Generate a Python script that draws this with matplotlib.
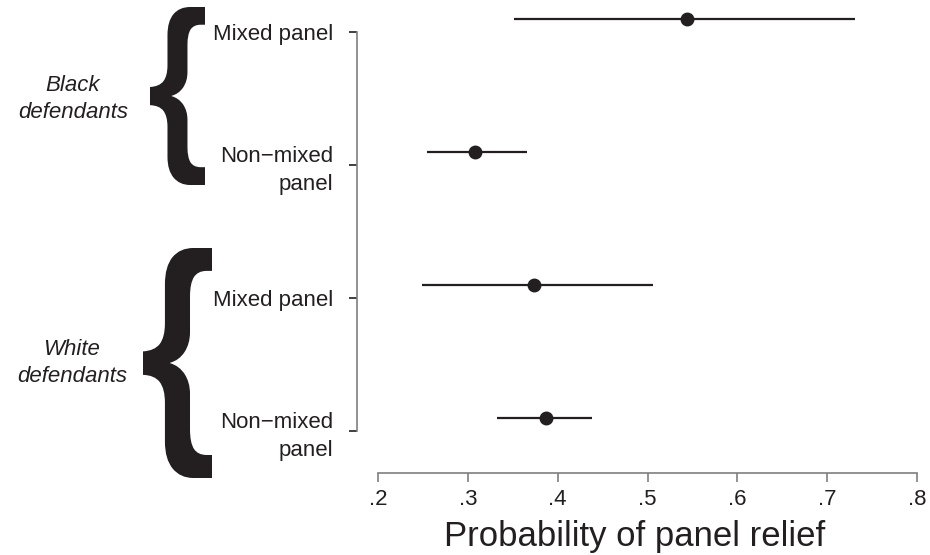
import matplotlib
matplotlib.use("Agg")
import matplotlib.pyplot as plt
import numpy as np
from matplotlib.textpath import TextPath
from matplotlib.font_manager import FontProperties
from matplotlib.patches import PathPatch
from matplotlib.transforms import Affine2D

plt.rcParams['font.family'] = ['Liberation Sans', 'DejaVu Sans']

# data
groups = ["Black\ndefendants", "White\ndefendants"]
rows = ["Mixed panel", "Non\u2212mixed\npanel", "Mixed panel", "Non\u2212mixed\npanel"]
est = [0.544, 0.308, 0.374, 0.387]
lo = [0.351, 0.255, 0.249, 0.332]
hi = [0.731, 0.366, 0.506, 0.438]
xticks = [0.2, 0.3, 0.4, 0.5, 0.6, 0.7, 0.8]

W, H = 930, 555
ink = '#231f20'
axis_grey = '#7f7f7f'

fig = plt.figure(figsize=(W / 100, H / 100), dpi=100)
ax = fig.add_axes([357 / W, 1 - 473 / H, (925 - 357) / W, 473 / H])

ypos = np.arange(len(rows))[::-1] + 1   # 4, 3, 2, 1
yoff = 0.1                              # points sit a bit above their tick

for y, e, l, h in zip(ypos, est, lo, hi):
    ax.plot([l, h], [y + yoff, y + yoff], color=ink, lw=1.6, solid_capstyle='butt')
    ax.plot(e, y + yoff, 'o', color=ink, ms=9)

ax.set_xlim(0.2 - 21 / 898, 0.8 + 8 / 898)
ax.set_ylim(1 - 42 / 133, 4 + 32 / 133)

ax.set_yticks(ypos)
ax.set_yticklabels(rows, fontsize=16, color=ink, linespacing=1.4)
ax.set_xticks(xticks)
ax.set_xticklabels([('%.1f' % v)[1:] for v in xticks], fontsize=16, color=ink)
ax.set_xlabel("Probability of panel relief", fontsize=25, color=ink, labelpad=8)
ax.xaxis.set_label_coords(0.488, -0.1)
ax.xaxis.label.set_va('top')

for s in ['top', 'right']:
    ax.spines[s].set_visible(False)
ax.spines['left'].set_bounds(1, 4)
ax.spines['bottom'].set_bounds(0.2, 0.8)
for s in ['left', 'bottom']:
    ax.spines[s].set_color(axis_grey)
    ax.spines[s].set_linewidth(1.2)
ax.tick_params(axis='y', length=6, width=1.2, color=ink, pad=11)
ax.tick_params(axis='x', length=6.5, width=1.2, color=axis_grey, pad=5)


def brace(x0, ytop, x1, ybot):
    """Draw a heavy '{' filling the pixel box (measured from top left)."""
    tp = TextPath((0, 0), "{", size=100, prop=FontProperties(family='Liberation Sans', weight='bold'))
    ext = tp.get_extents()
    tr = (Affine2D().translate(-ext.x0, -ext.y0)
          .scale(1 / ext.width, 1 / ext.height)
          .scale((x1 - x0) / W, (ybot - ytop) / H)
          .translate(x0 / W, 1 - ybot / H))
    fig.add_artist(PathPatch(tp, transform=tr + fig.transFigure, color=ink, lw=0))


brace(150, 7, 205, 185)
brace(143, 248, 212, 478)

fig.text(73 / W, 1 - 99 / H, groups[0], ha='center', va='center', fontsize=16,
         style='italic', color=ink, linespacing=1.4)
fig.text(72 / W, 1 - 363 / H, groups[1], ha='center', va='center', fontsize=16,
         style='italic', color=ink, linespacing=1.4)

fig.savefig("out.png", dpi=100)
